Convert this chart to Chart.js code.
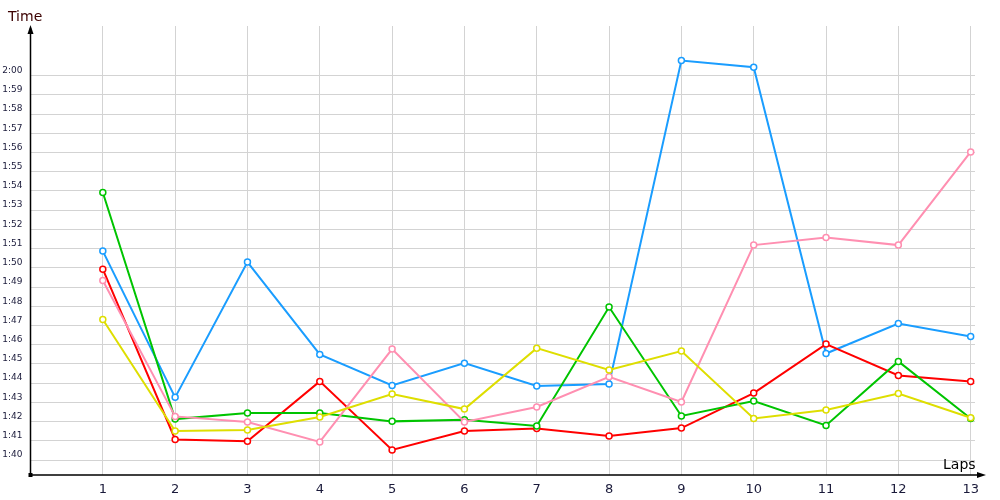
<!DOCTYPE html>
<html>
<head>
<meta charset="utf-8">
<script src="https://cdn.jsdelivr.net/npm/chart.js@4/dist/chart.umd.min.js"></script>
<style>
  html, body { margin: 0; padding: 0; background: #fff; }
  #wrap { width: 1000px; height: 500px; }
</style>
</head>
<body>
<div id="wrap"><canvas id="lapChart" width="1000" height="500"></canvas></div>
<script>
// Lap numbers and lap times (seconds) per driver
const laps = [1, 2, 3, 4, 5, 6, 7, 8, 9, 10, 11, 12, 13];
const timeTicks = [100, 101, 102, 103, 104, 105, 106, 107, 108, 109, 110, 111, 112, 113, 114, 115, 116, 117, 118, 119, 120];

const blueTimes   = [110.87, 103.26, 110.30, 105.49, 103.88, 105.04, 103.85, 103.95, 120.78, 120.44, 105.54, 107.10, 106.43];
const redTimes    = [109.93, 101.07, 100.97, 104.09, 100.52, 101.51, 101.64, 101.25, 101.66, 103.48, 106.03, 104.40, 104.09];
const greenTimes  = [113.92, 102.13, 102.44, 102.44, 102.01, 102.10, 101.77, 107.96, 102.29, 103.07, 101.80, 105.13, 102.16];
const yellowTimes = [107.31, 101.51, 101.56, 102.24, 103.43, 102.65, 105.82, 104.68, 105.67, 102.16, 102.60, 103.46, 102.20];
const pinkTimes   = [109.34, 102.27, 101.98, 100.94, 105.77, 101.98, 102.76, 104.33, 103.02, 111.18, 111.58, 111.18, 116.03];

function toPoints(values) {
    return laps.map((lap, i) => ({ x: lap, y: values[i] }));
}

function fmtTime(sec) {
    const m = Math.floor(sec / 60);
    const s = Math.round(sec - m * 60);
    return m + ':' + (s < 10 ? '0' + s : s);
}

function series(values, color) {
    return {
        data: toPoints(values),
        borderColor: color,
        backgroundColor: color,
        borderWidth: 2,
        tension: 0,
        pointRadius: 3,
        pointHoverRadius: 3,
        pointBorderWidth: 1.5,
        pointBorderColor: color,
        pointBackgroundColor: '#ffffff'
    };
}

// black axes with arrow heads, plus the two axis titles
const axisArrows = {
    id: 'axisArrows',
    afterDraw(chart) {
        const c = chart.ctx;
        const a = chart.chartArea;
        const x0 = a.left, y0 = a.bottom;
        c.save();
        c.strokeStyle = '#000';
        c.fillStyle = '#000';
        c.lineWidth = 1.5;
        c.beginPath();
        c.moveTo(x0, y0);
        c.lineTo(x0, a.top + 2);
        c.moveTo(x0, y0);
        c.lineTo(983, y0);
        c.stroke();
        // y arrow
        c.beginPath();
        c.moveTo(x0, a.top - 1);
        c.lineTo(x0 - 3, a.top + 8);
        c.lineTo(x0 + 3, a.top + 8);
        c.closePath();
        c.fill();
        // x arrow
        c.beginPath();
        c.moveTo(986, y0);
        c.lineTo(977, y0 - 3);
        c.lineTo(977, y0 + 3);
        c.closePath();
        c.fill();
        c.fillRect(x0 - 2, y0 - 2, 4, 4);

        c.font = '14px "DejaVu Sans"';
        c.textBaseline = 'alphabetic';
        c.fillStyle = '#3b0000';
        c.fillText('Time', 8, 21);
        c.fillStyle = '#000';
        c.fillText('Laps', 943, 469);
        c.restore();
    }
};

const ctx = document.getElementById('lapChart').getContext('2d');
const lapChart = new Chart(ctx, {
    type: 'line',
    data: {
        datasets: [
            series(yellowTimes, '#dede00'),
            series(pinkTimes, '#ff8fb1'),
            series(greenTimes, '#00c400'),
            series(redTimes, '#ff0000'),
            series(blueTimes, '#1a9dff')
        ]
    },
    options: {
        responsive: false,
        animation: false,
        layout: { padding: { left: 0, top: 26, right: 25, bottom: 0 } },
        plugins: {
            legend: { display: false },
            tooltip: { enabled: false }
        },
        scales: {
            x: {
                type: 'linear',
                min: 0,
                max: 13.06,
                afterBuildTicks(scale) {
                    scale.ticks = laps.map(v => ({ value: v }));
                },
                afterFit(scale) { scale.height = 25; },
                border: { display: false },
                grid: { color: '#d3d3d3', lineWidth: 1, drawTicks: false },
                ticks: {
                    padding: 7,
                    color: '#1a1a3a',
                    font: { family: 'DejaVu Sans', size: 13 },
                    maxRotation: 0,
                    autoSkip: false
                }
            },
            y: {
                min: 99.22,
                max: 122.58,
                afterBuildTicks(scale) {
                    scale.ticks = timeTicks.map(v => ({ value: v }));
                },
                afterFit(scale) { scale.width = 30.5; },
                border: { display: false },
                grid: { color: '#d3d3d3', lineWidth: 1, drawTicks: false },
                ticks: {
                    padding: 8,
                    labelOffset: -5,
                    color: '#1a1a3a',
                    font: { family: 'DejaVu Sans', size: 9 },
                    autoSkip: false,
                    callback: v => fmtTime(v)
                }
            }
        }
    },
    plugins: [axisArrows]
});
</script>
</body>
</html>
